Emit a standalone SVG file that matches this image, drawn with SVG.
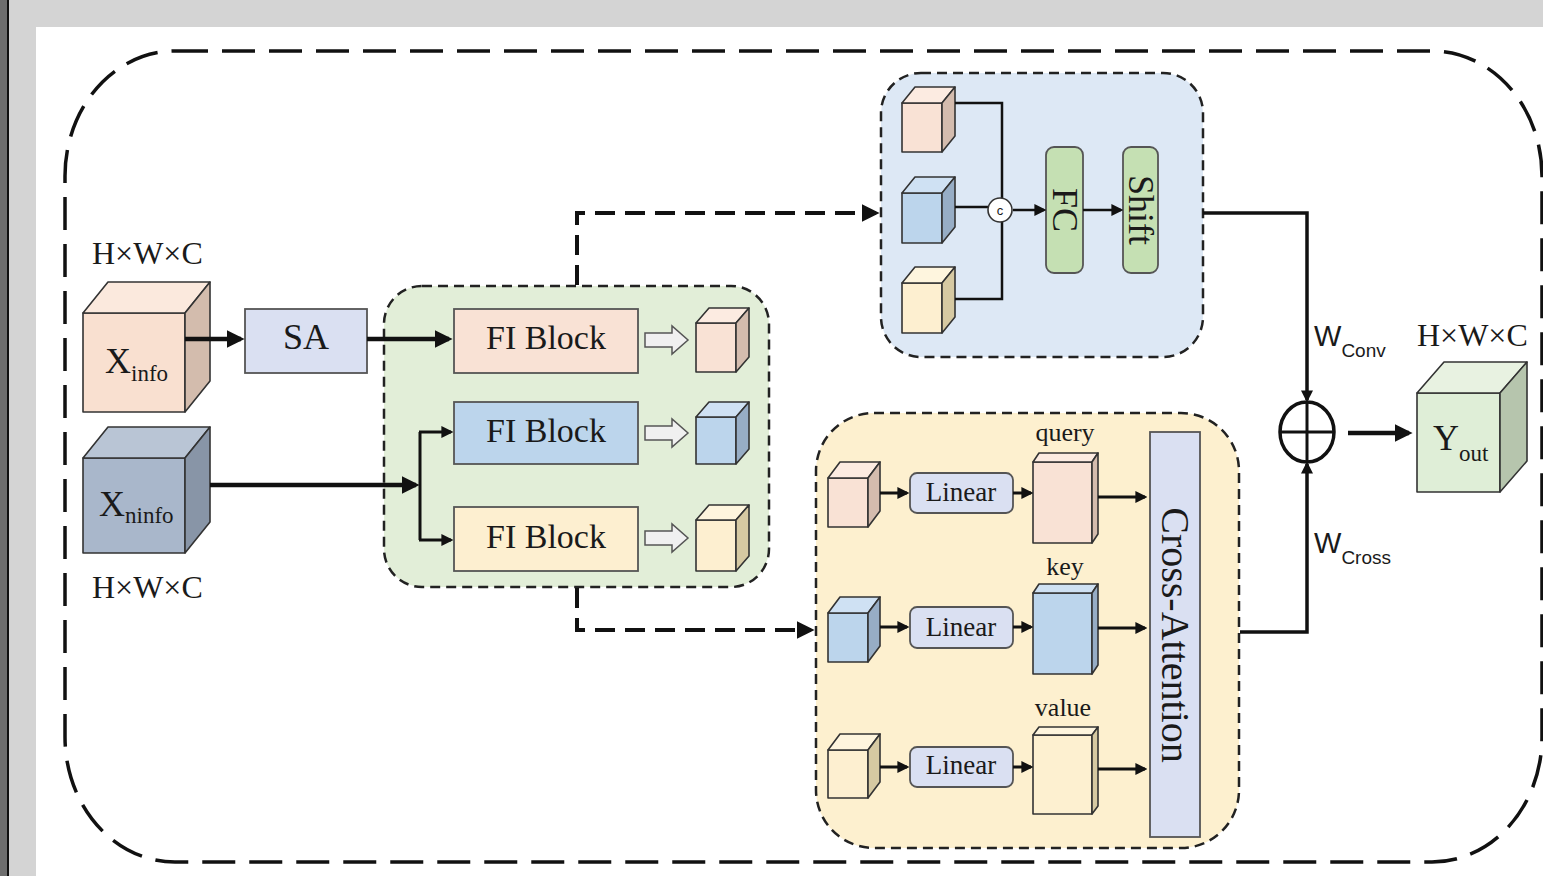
<svg xmlns="http://www.w3.org/2000/svg" width="1543" height="876" viewBox="0 0 1543 876">
<defs>
<style>
.t{font-family:"Liberation Serif","Times New Roman",serif;fill:#1a1a1a}
.s{font-family:"Liberation Sans",Arial,sans-serif;fill:#1a1a1a}
.ln{stroke:#111;fill:none;stroke-linejoin:miter}
.ol{stroke:#333;stroke-width:1.6;stroke-linejoin:round}
.dsh{stroke:#222;stroke-width:2.5;stroke-dasharray:10 6}
.box{stroke:#555;stroke-width:1.8}
</style>
<marker id="ah" viewBox="0 0 10 10" refX="8" refY="5" markerWidth="18" markerHeight="18" markerUnits="userSpaceOnUse" orient="auto"><path d="M0,0 L10,5 L0,10 z" fill="#111" stroke="none"/></marker>
<marker id="as" viewBox="0 0 10 10" refX="8" refY="5" markerWidth="12" markerHeight="12" markerUnits="userSpaceOnUse" orient="auto"><path d="M0,0 L10,5 L0,10 z" fill="#111" stroke="none"/></marker>
</defs>

<!-- background frame -->
<rect x="0" y="0" width="1543" height="876" fill="#d4d4d4"/>
<rect x="0" y="0" width="8" height="876" fill="#6e6e6e"/>
<rect x="7" y="0" width="2" height="876" fill="#111"/>
<rect x="36" y="27" width="1507" height="849" fill="#ffffff"/>

<!-- outer dashed container -->
<rect x="65" y="51" width="1477" height="811" rx="110" ry="125" fill="none" stroke="#111" stroke-width="3.5" stroke-dasharray="33 14"/>

<!-- containers -->
<g id="fi-group">
<rect x="384" y="286" width="385" height="301" rx="38" ry="38" fill="#e2eed8" class="dsh"/>
</g>
<g id="conv-branch">
<rect x="881" y="73" width="322" height="284" rx="40" ry="40" fill="#dde8f5" class="dsh"/>
</g>
<g id="cross-branch">
<rect x="816" y="413" width="423" height="435" rx="58" ry="58" fill="#fdf0cf" class="dsh"/>
</g>

<!-- input X_info -->
<g id="x-info">
<text class="t" x="92" y="264" font-size="32">H×W×C</text>
<rect x="83" y="313" width="102" height="99" fill="#f9e0d0" class="ol"/>
<path d="M83,313 L108,282 L210,282 L185,313 Z" fill="#fbe9dd" class="ol"/>
<path d="M185,313 L210,282 L210,381 L185,412 Z" fill="#d3bcad" class="ol"/>
<text class="t" x="105" y="373" font-size="36">X<tspan font-size="23" dy="8">info</tspan></text>
</g>

<!-- input X_ninfo -->
<g id="x-ninfo">
<rect x="83" y="458" width="102" height="95" fill="#a9b7cb" class="ol"/>
<path d="M83,458 L108,427 L210,427 L185,458 Z" fill="#b9c5d5" class="ol"/>
<path d="M185,458 L210,427 L210,522 L185,553 Z" fill="#8895a7" class="ol"/>
<text class="t" x="99" y="516" font-size="36">X<tspan font-size="23" dy="7">ninfo</tspan></text>
<text class="t" x="92" y="598" font-size="32">H×W×C</text>
</g>

<!-- SA -->
<g id="sa">
<rect x="245" y="309" width="122" height="64" fill="#dae0f2" class="box"/>
<text class="t" x="306" y="349" font-size="36" text-anchor="middle">SA</text>
</g>

<!-- FI blocks -->
<g id="fi-block-1">
<rect x="454" y="309" width="184" height="64" fill="#f9e2d5" class="box"/>
<text class="t" x="546" y="349" font-size="34" text-anchor="middle">FI Block</text>
<path d="M645,333 L672,333 L672,326 L688,340 L672,354 L672,347 L645,347 Z" fill="#f0f0f0" stroke="#555" stroke-width="1.5"/>
<rect x="696" y="323" width="40" height="49" fill="#f9e2d5" class="ol"/>
<path d="M696,323 L709,308 L749,308 L736,323 Z" fill="#fcebe1" class="ol"/>
<path d="M736,323 L749,308 L749,357 L736,372 Z" fill="#d4bcae" class="ol"/>
</g>
<g id="fi-block-2">
<rect x="454" y="402" width="184" height="62" fill="#bcd5ec" class="box"/>
<text class="t" x="546" y="442" font-size="34" text-anchor="middle">FI Block</text>
<path d="M645,426 L672,426 L672,419 L688,433 L672,447 L672,440 L645,440 Z" fill="#f0f0f0" stroke="#555" stroke-width="1.5"/>
<rect x="696" y="417" width="40" height="47" fill="#bcd5ec" class="ol"/>
<path d="M696,417 L709,402 L749,402 L736,417 Z" fill="#cfe1f3" class="ol"/>
<path d="M736,417 L749,402 L749,449 L736,464 Z" fill="#97adc5" class="ol"/>
</g>
<g id="fi-block-3">
<rect x="454" y="507" width="184" height="64" fill="#fdefd0" class="box"/>
<text class="t" x="546" y="548" font-size="34" text-anchor="middle">FI Block</text>
<path d="M645,531 L672,531 L672,524 L688,538 L672,552 L672,545 L645,545 Z" fill="#f0f0f0" stroke="#555" stroke-width="1.5"/>
<rect x="696" y="520" width="40" height="51" fill="#fdefd0" class="ol"/>
<path d="M696,520 L709,505 L749,505 L736,520 Z" fill="#fef5de" class="ol"/>
<path d="M736,520 L749,505 L749,556 L736,571 Z" fill="#d6c9a2" class="ol"/>
</g>

<!-- conv branch contents -->
<g id="conv-cubes">
<rect x="902" y="103" width="40" height="49" fill="#f9e2d5" class="ol"/>
<path d="M902,103 L915,87 L955,87 L942,103 Z" fill="#fcebe1" class="ol"/>
<path d="M942,103 L955,87 L955,136 L942,152 Z" fill="#d4bcae" class="ol"/>
<rect x="902" y="193" width="40" height="50" fill="#bcd5ec" class="ol"/>
<path d="M902,193 L915,177 L955,177 L942,193 Z" fill="#cfe1f3" class="ol"/>
<path d="M942,193 L955,177 L955,227 L942,243 Z" fill="#97adc5" class="ol"/>
<rect x="902" y="283" width="40" height="50" fill="#fdefd0" class="ol"/>
<path d="M902,283 L915,267 L955,267 L942,283 Z" fill="#fef5de" class="ol"/>
<path d="M942,283 L955,267 L955,317 L942,333 Z" fill="#d6c9a2" class="ol"/>
</g>
<g id="concat">
<path d="M955,103 L1002,103 L1002,198 M955,299 L1002,299 L1002,222 M955,207 L988,207" class="ln" stroke-width="2.5"/>
<circle cx="1000" cy="210" r="12" fill="#fff" stroke="#333" stroke-width="1.6"/>
<text class="s" x="1000" y="215" font-size="13" text-anchor="middle">c</text>
</g>
<g id="fc">
<rect x="1046" y="147" width="37" height="126" rx="8" ry="8" fill="#c5e0b3" class="box"/>
<text class="t" transform="translate(1053,210) rotate(90)" font-size="36" text-anchor="middle">FC</text>
</g>
<g id="shift">
<rect x="1123" y="147" width="35" height="126" rx="8" ry="8" fill="#c5e0b3" class="box"/>
<text class="t" transform="translate(1129,210) rotate(90)" font-size="36" text-anchor="middle">Shift</text>
</g>

<!-- cross branch contents -->
<g id="cross-inputs">
<rect x="828" y="478" width="40" height="49" fill="#f9e2d5" class="ol"/>
<path d="M828,478 L840,462 L880,462 L868,478 Z" fill="#fcebe1" class="ol"/>
<path d="M868,478 L880,462 L880,511 L868,527 Z" fill="#d4bcae" class="ol"/>
<rect x="828" y="613" width="40" height="49" fill="#bcd5ec" class="ol"/>
<path d="M828,613 L840,597 L880,597 L868,613 Z" fill="#cfe1f3" class="ol"/>
<path d="M868,613 L880,597 L880,646 L868,662 Z" fill="#97adc5" class="ol"/>
<rect x="828" y="750" width="40" height="48" fill="#fdefd0" class="ol"/>
<path d="M828,750 L840,734 L880,734 L868,750 Z" fill="#fef5de" class="ol"/>
<path d="M868,750 L880,734 L880,782 L868,798 Z" fill="#d6c9a2" class="ol"/>
</g>
<g id="linear-1">
<rect x="910" y="473" width="103" height="40" rx="7" ry="7" fill="#dae0f2" class="box"/>
<text class="t" x="961" y="501" font-size="27" text-anchor="middle">Linear</text>
</g>
<g id="linear-2">
<rect x="910" y="607" width="103" height="41" rx="7" ry="7" fill="#dae0f2" class="box"/>
<text class="t" x="961" y="636" font-size="27" text-anchor="middle">Linear</text>
</g>
<g id="linear-3">
<rect x="910" y="747" width="103" height="40" rx="7" ry="7" fill="#dae0f2" class="box"/>
<text class="t" x="961" y="774" font-size="27" text-anchor="middle">Linear</text>
</g>
<g id="query">
<text class="t" x="1065" y="441" font-size="26" text-anchor="middle">query</text>
<rect x="1033" y="462" width="59" height="81" fill="#f9e2d5" class="ol"/>
<path d="M1033,462 L1039,453 L1098,453 L1092,462 Z" fill="#fcebe1" class="ol"/>
<path d="M1092,462 L1098,453 L1098,534 L1092,543 Z" fill="#d4bcae" class="ol"/>
</g>
<g id="key">
<text class="t" x="1065" y="575" font-size="26" text-anchor="middle">key</text>
<rect x="1033" y="593" width="59" height="81" fill="#bcd5ec" class="ol"/>
<path d="M1033,593 L1039,584 L1098,584 L1092,593 Z" fill="#cfe1f3" class="ol"/>
<path d="M1092,593 L1098,584 L1098,665 L1092,674 Z" fill="#97adc5" class="ol"/>
</g>
<g id="value">
<text class="t" x="1063" y="716" font-size="26" text-anchor="middle">value</text>
<rect x="1033" y="735" width="59" height="79" fill="#fdf0d0" class="ol"/>
<path d="M1033,735 L1039,727 L1098,727 L1092,735 Z" fill="#fef5de" class="ol"/>
<path d="M1092,735 L1098,727 L1098,806 L1092,814 Z" fill="#d6c9a2" class="ol"/>
</g>
<g id="cross-attention">
<rect x="1150" y="432" width="50" height="405" fill="#dae0f2" class="box"/>
<text class="t" transform="translate(1162,635) rotate(90)" font-size="40" text-anchor="middle">Cross-Attention</text>
</g>

<!-- fusion -->
<g id="sum">
<ellipse cx="1307" cy="432" rx="27" ry="30" fill="#fff" stroke="#111" stroke-width="3.5"/>
<path d="M1280,432 L1334,432 M1307,402 L1307,462" stroke="#111" stroke-width="3"/>
</g>
<g id="labels-w">
<text class="s" x="1314" y="346" font-size="29">W<tspan font-size="19" dy="11">Conv</tspan></text>
<text class="s" x="1314" y="553" font-size="29">W<tspan font-size="19" dy="11">Cross</tspan></text>
</g>

<!-- output -->
<g id="y-out">
<text class="t" x="1417" y="346" font-size="32">H×W×C</text>
<rect x="1417" y="393" width="83" height="99" fill="#dfeed7" class="ol"/>
<path d="M1417,393 L1444,362 L1527,362 L1500,393 Z" fill="#e8f2e1" class="ol"/>
<path d="M1500,393 L1527,362 L1527,461 L1500,492 Z" fill="#b6c5ad" class="ol"/>
<text class="t" x="1433" y="450" font-size="36">Y<tspan font-size="23" dy="11">out</tspan></text>
</g>

<!-- connectors -->
<g id="connectors">
<path d="M185,339 L241,339" class="ln" stroke-width="4.5" marker-end="url(#ah)"/>
<path d="M367,339 L449,339" class="ln" stroke-width="4.5" marker-end="url(#ah)"/>
<path d="M210,485 L416,485" class="ln" stroke-width="4.5" marker-end="url(#ah)"/>
<path d="M420,432 L420,540" class="ln" stroke-width="3"/>
<path d="M419,432 L451,432" class="ln" stroke-width="3" marker-end="url(#as)"/>
<path d="M419,540 L451,540" class="ln" stroke-width="3" marker-end="url(#as)"/>
<path d="M577,285 L577,213 L876,213" class="ln" stroke-width="4" stroke-dasharray="20 10" marker-end="url(#ah)"/>
<path d="M577,588 L577,630 L811,630" class="ln" stroke-width="4" stroke-dasharray="20 10" marker-end="url(#ah)"/>
<path d="M1013,210 L1044,210" class="ln" stroke-width="2.5" marker-end="url(#as)"/>
<path d="M1083,210 L1121,210" class="ln" stroke-width="2.5" marker-end="url(#as)"/>
<path d="M880,493 L907,493" class="ln" stroke-width="3" marker-end="url(#as)"/>
<path d="M880,627 L907,627" class="ln" stroke-width="3" marker-end="url(#as)"/>
<path d="M880,767 L907,767" class="ln" stroke-width="3" marker-end="url(#as)"/>
<path d="M1013,493 L1031,493" class="ln" stroke-width="3" marker-end="url(#as)"/>
<path d="M1013,627 L1031,627" class="ln" stroke-width="3" marker-end="url(#as)"/>
<path d="M1013,767 L1031,767" class="ln" stroke-width="3" marker-end="url(#as)"/>
<path d="M1098,497 L1145,497" class="ln" stroke-width="3" marker-end="url(#as)"/>
<path d="M1098,628 L1145,628" class="ln" stroke-width="3" marker-end="url(#as)"/>
<path d="M1098,769 L1145,769" class="ln" stroke-width="3" marker-end="url(#as)"/>
<path d="M1203,213 L1307,213 L1307,400" class="ln" stroke-width="3.5" marker-end="url(#as)"/>
<path d="M1240,632 L1307,632 L1307,464" class="ln" stroke-width="3.5" marker-end="url(#as)"/>
<path d="M1348,433 L1409,433" class="ln" stroke-width="4.5" marker-end="url(#ah)"/>
</g>
</svg>
